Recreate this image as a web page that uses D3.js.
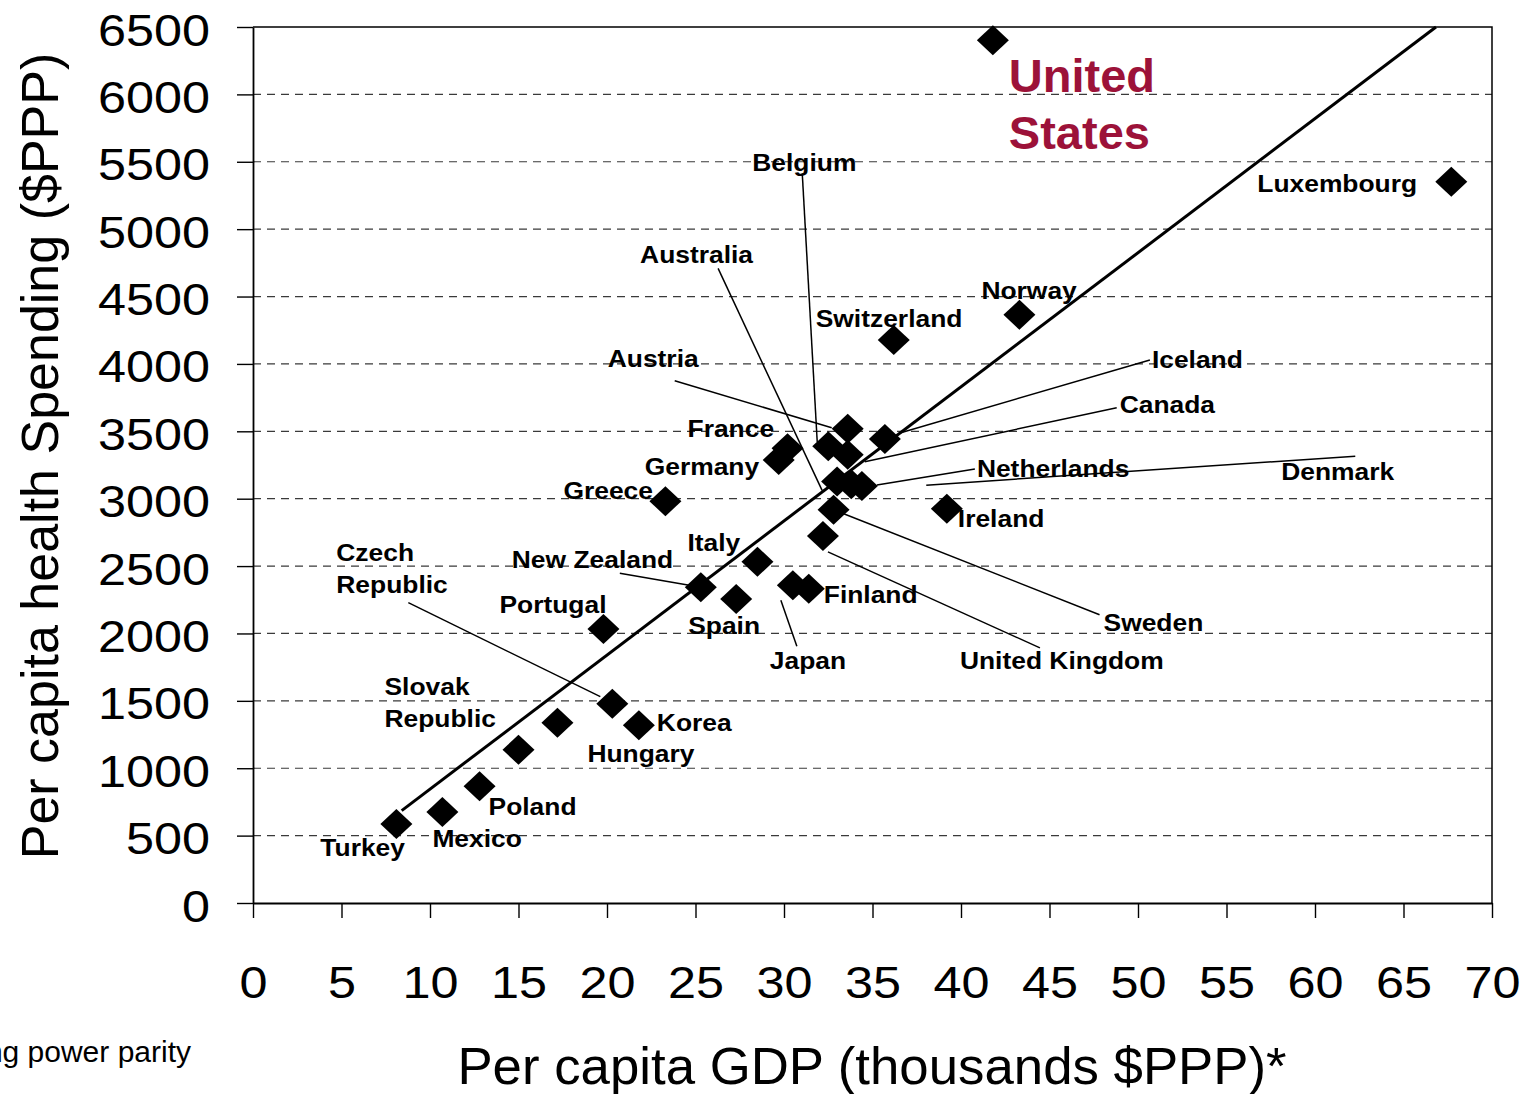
<!DOCTYPE html>
<html>
<head>
<meta charset="utf-8">
<script src="https://cdn.jsdelivr.net/npm/d3@7"></script>
<style>
  html, body { margin: 0; padding: 0; background: #fff; }
  svg { display: block; }
  text { font-family: "Liberation Sans", Arial, Helvetica, sans-serif; }
</style>
</head>
<body>
<svg id="chart" width="1530" height="1094"></svg>
<script>
// OECD countries: per capita GDP (thousands $PPP) and per capita health spending ($PPP)
const countries = ["Turkey", "Mexico", "Poland", "Slovak Republic", "Hungary", "Czech Republic",
  "Korea", "Portugal", "Greece", "New Zealand", "Spain", "Italy", "Japan", "Finland", "Germany",
  "France", "United Kingdom", "Sweden", "Belgium", "Australia", "Austria", "Canada", "Denmark",
  "Netherlands", "Iceland", "Switzerland", "Ireland", "Norway", "United States", "Luxembourg"];
const gdp = [8.1, 10.7, 12.8, 15.0, 17.2, 20.3, 21.8, 19.8, 23.3, 25.3, 27.3, 28.5, 30.5, 31.4, 29.7,
  30.2, 32.2, 32.8, 32.5, 33.0, 33.6, 33.6, 33.8, 34.4, 35.7, 36.2, 39.2, 43.3, 41.8, 67.7];
const spending = [586, 675, 867, 1137, 1337, 1479, 1318, 2033, 2981, 2343, 2255, 2532, 2358, 2331, 3287,
  3374, 2724, 2918, 3389, 3128, 3519, 3326, 3108, 3094, 3443, 4177, 2926, 4364, 6401, 5352];

// Axis ticks
const xTicks = [0, 5, 10, 15, 20, 25, 30, 35, 40, 45, 50, 55, 60, 65, 70];
const yTicks = [0, 500, 1000, 1500, 2000, 2500, 3000, 3500, 4000, 4500, 5000, 5500, 6000, 6500];

// Fitted trend line: spending = slope * gdp + intercept
const trendSlope = 99.5;
const trendIntercept = -150;
const trendStartGdp = 8.4;

// Label placement: pixel offsets from each marker; leader = [startDx, startDy, endDx, endDy]
const labelLayout = [
  { name: "Turkey", dx: -76, dy: 32 },
  { name: "Mexico", dx: -10, dy: 35 },
  { name: "Poland", dx: 9, dy: 29 },
  { name: "Slovak Republic", lines: ["Slovak", "Republic"], dx: -134, dy: -55 },
  { name: "Hungary", dx: 30, dy: 39 },
  { name: "Czech Republic", lines: ["Czech", "Republic"], dx: -276, dy: -143, leader: [-204, -101, -12, -7] },
  { name: "Korea", dx: 18, dy: 6 },
  { name: "Portugal", dx: -104, dy: -16 },
  { name: "Greece", dx: -102, dy: -2 },
  { name: "New Zealand", dx: -189, dy: -19, leader: [-81, -14, 0, 0] },
  { name: "Spain", dx: -48, dy: 35 },
  { name: "Italy", dx: -70, dy: -11 },
  { name: "Japan", dx: -23, dy: 84, leader: [4, 61, -12, 15] },
  { name: "Finland", dx: 15, dy: 14 },
  { name: "Germany", dx: -134, dy: 15 },
  { name: "France", dx: -100, dy: -11 },
  { name: "United Kingdom", dx: 137, dy: 133, leader: [217, 112, 5, 16] },
  { name: "Sweden", dx: 270, dy: 121, leader: [266, 105, 0, 0] },
  { name: "Belgium", dx: -76, dy: -275, leader: [-26, -273, -11, -4] },
  { name: "Australia", dx: -197, dy: -218, leader: [-119, -213, -15, 9] },
  { name: "Austria", dx: -240, dy: -62, leader: [-173, -48, -16, -1] },
  { name: "Canada", dx: 272, dy: -42, leader: [269, -47, 17, 7] },
  { name: "Denmark", dx: 430, dy: -4, leader: [504, -28, 75, 1] },
  { name: "Netherlands", dx: 115, dy: -9, leader: [113, -17, 15, -1] },
  { name: "Iceland", dx: 267, dy: -71, leader: [265, -79, 15, -6] },
  { name: "Switzerland", dx: -78, dy: -13 },
  { name: "Ireland", dx: 11, dy: 18 },
  { name: "Norway", dx: -38, dy: -16 },
  { name: "United States", lines: ["United", "States"], dx: 16, dy: 52, highlight: true },
  { name: "Luxembourg", dx: -194, dy: 10 }
];

const points = countries.map((name, i) => ({ name, gdp: gdp[i], spend: spending[i] }));
const pointByName = new Map(points.map(p => [p.name, p]));

const svg = d3.select("#chart");
const x = d3.scaleLinear().domain([0, 70]).range([253, 1492]);
const y = d3.scaleLinear().domain([0, 6500]).range([903, 27]);

// Dashed horizontal gridlines
svg.append("g")
  .selectAll("line")
  .data(yTicks.filter(v => v > 0 && v < 6500))
  .join("line")
  .attr("x1", x(0)).attr("x2", x(70))
  .attr("y1", d => y(d)).attr("y2", d => y(d))
  .attr("stroke", "#3a3a3a")
  .attr("stroke-width", 1.2)
  .attr("stroke-dasharray", "8,6");

// Top and right frame
svg.append("path")
  .attr("d", `M${x(0)},${y(6500)}H${x(70)}V${y(0)}`)
  .attr("fill", "none")
  .attr("stroke", "#000")
  .attr("stroke-width", 1.5);

// Y axis
const yAxis = svg.append("g")
  .attr("transform", `translate(${x(0)},0)`)
  .call(d3.axisLeft(y).tickValues(yTicks).tickSize(16).tickSizeOuter(0).tickFormat(d3.format("d")));
yAxis.attr("font-size", null).attr("font-family", null);
yAxis.select(".domain").attr("stroke", "#000").attr("stroke-width", 1.8);
yAxis.selectAll(".tick line").attr("stroke", "#000").attr("stroke-width", 1.4);
yAxis.selectAll(".tick text")
  .attr("x", null).attr("dy", null)
  .attr("transform", "translate(-43,18) scale(1.12,1)")
  .attr("text-anchor", "end")
  .attr("font-size", 45)
  .attr("fill", "#000");

// X axis
const xAxis = svg.append("g")
  .attr("transform", `translate(0,${y(0)})`)
  .call(d3.axisBottom(x).tickValues(xTicks).tickSize(15).tickSizeOuter(0).tickFormat(d3.format("d")));
xAxis.attr("font-size", null).attr("font-family", null);
xAxis.select(".domain").attr("stroke", "#000").attr("stroke-width", 1.8);
xAxis.selectAll(".tick line").attr("stroke", "#000").attr("stroke-width", 1.4);
xAxis.selectAll(".tick text")
  .attr("y", null).attr("dy", null)
  .attr("transform", "translate(0,95) scale(1.12,1)")
  .attr("text-anchor", "middle")
  .attr("font-size", 45)
  .attr("fill", "#000");

// Trend line, clipped at the top of the plot
const trendEndGdp = (6500 - trendIntercept) / trendSlope;
svg.append("line")
  .attr("x1", x(trendStartGdp))
  .attr("y1", y(trendSlope * trendStartGdp + trendIntercept))
  .attr("x2", x(trendEndGdp))
  .attr("y2", y(6500))
  .attr("stroke", "#000")
  .attr("stroke-width", 3);

// Leader lines from labels to markers
const leaders = labelLayout.filter(l => l.leader);
svg.append("g")
  .selectAll("line")
  .data(leaders)
  .join("line")
  .attr("x1", l => x(pointByName.get(l.name).gdp) + l.leader[0])
  .attr("y1", l => y(pointByName.get(l.name).spend) + l.leader[1])
  .attr("x2", l => x(pointByName.get(l.name).gdp) + l.leader[2])
  .attr("y2", l => y(pointByName.get(l.name).spend) + l.leader[3])
  .attr("stroke", "#000")
  .attr("stroke-width", 1.5);

// Diamond markers
const diamond = {
  draw(ctx) {
    const w = 16, h = 15;
    ctx.moveTo(0, -h);
    ctx.lineTo(w, 0);
    ctx.lineTo(0, h);
    ctx.lineTo(-w, 0);
    ctx.closePath();
  }
};
svg.append("g")
  .selectAll("path")
  .data(points)
  .join("path")
  .attr("d", d3.symbol().type(diamond))
  .attr("transform", d => `translate(${x(d.gdp)},${y(d.spend)})`)
  .attr("fill", "#000");

// Country labels
const labels = svg.append("g")
  .selectAll("text")
  .data(labelLayout)
  .join("text")
  .attr("transform", l => {
    const p = pointByName.get(l.name);
    const sx = l.highlight ? 1 : 1.1;
    return `translate(${x(p.gdp) + l.dx},${y(p.spend) + l.dy}) scale(${sx},1)`;
  })
  .attr("font-weight", "bold")
  .attr("font-size", l => l.highlight ? 47 : 24)
  .attr("fill", l => l.highlight ? "#9c1239" : "#000");

labels.each(function (l) {
  const lines = l.lines || [l.name];
  const lh = l.highlight ? 57 : 32;
  d3.select(this).selectAll("tspan")
    .data(lines)
    .join("tspan")
    .attr("x", 0)
    .attr("dy", (d, i) => i === 0 ? 0 : lh)
    .text(d => d);
});

// Axis titles
svg.append("text")
  .attr("transform", "translate(58,456) rotate(-90)")
  .attr("text-anchor", "middle")
  .attr("font-size", 52)
  .attr("fill", "#000")
  .text("Per capita health Spending ($PPP)");

svg.append("text")
  .attr("transform", "translate(872,1084) scale(1.035,1)")
  .attr("text-anchor", "middle")
  .attr("font-size", 51)
  .attr("fill", "#000")
  .text("Per capita GDP (thousands $PPP)*");

// Footnote (runs off the left edge of the page)
svg.append("text")
  .attr("x", 191)
  .attr("y", 1062)
  .attr("text-anchor", "end")
  .attr("font-size", 30)
  .attr("fill", "#000")
  .text("*Purchasing power parity");
</script>
</body>
</html>
